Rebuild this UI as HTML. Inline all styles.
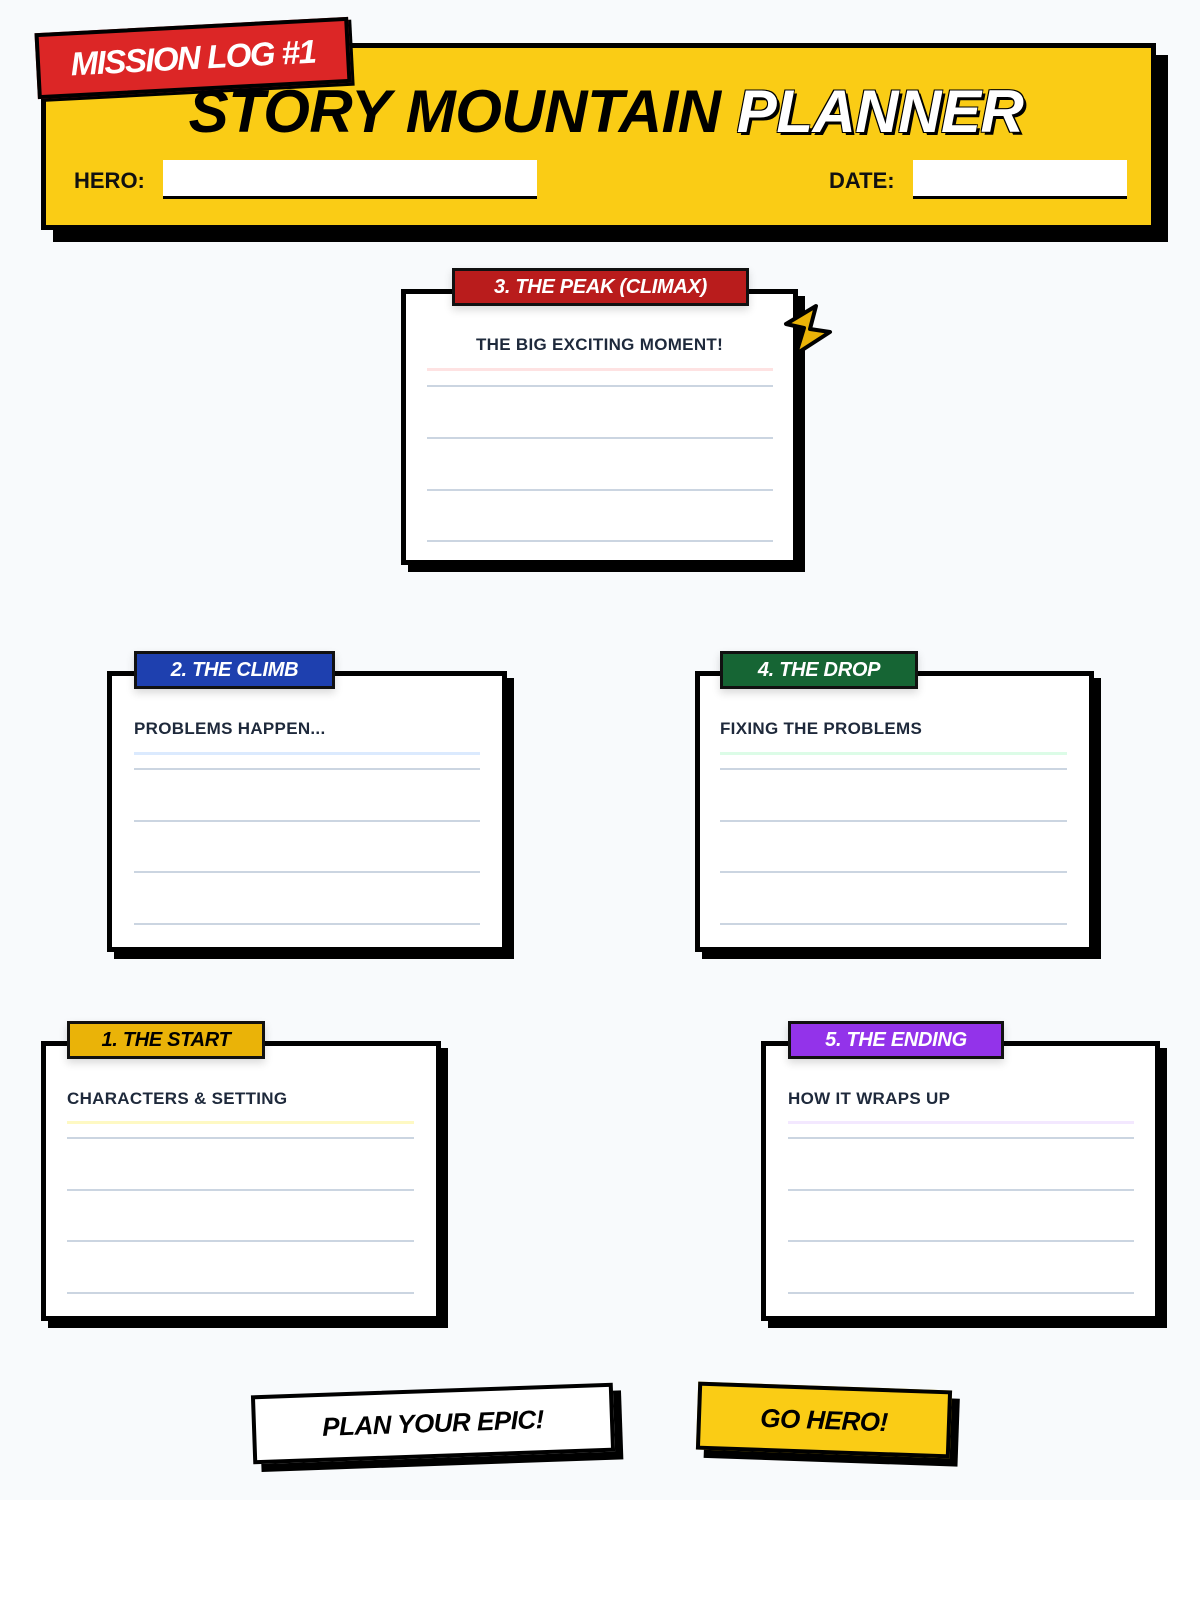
<!DOCTYPE html>
<html><head><meta charset="utf-8"><style>
*{margin:0;padding:0;box-sizing:border-box}
body{width:1200px;height:1600px;background:#fff;position:relative;overflow:hidden;font-family:"Liberation Sans",sans-serif}
#bg{position:absolute;left:0;top:0;width:1200px;height:1500px;background:#f8fafc}
.abs{position:absolute}
.hdr{left:41px;top:43px;width:1115px;height:187px;background:#facc15;border:5px solid #000;box-shadow:12px 12px 0 #000}
.tagred{left:36px;top:25px;width:314px;height:66px;background:#dc2626;border:4px solid #000;transform:rotate(-3deg);color:#fff;font:italic 900 33px "Liberation Sans",sans-serif;letter-spacing:-1.5px;display:flex;align-items:center;justify-content:center;box-shadow:3px 3px 0 #000}
.title{left:0;width:1212px;top:77px;text-align:center;font:italic 900 60px "Liberation Sans",sans-serif;letter-spacing:-0.5px;color:#000;white-space:nowrap}
.title span{color:#fff;text-shadow:3px 3px 0 #000,-1px -1px 0 #000,1px -1px 0 #000,-1px 1px 0 #000}
.lbl{font:bold 22px "Liberation Sans",sans-serif;color:#111}
.inp{background:#fff;border-bottom:3px solid #000;height:39px}
.card{background:#fff;border:5px solid #000;box-shadow:7px 7px 0 #000}
.tag{height:38px;border:3px solid #111;color:#fff;font:italic 900 20px "Liberation Sans",sans-serif;letter-spacing:-0.3px;display:flex;align-items:center;justify-content:center;box-shadow:0 4px 8px rgba(0,0,0,.15)}
.sub{font:bold 17px "Liberation Sans",sans-serif;color:#1e293b;letter-spacing:.3px;white-space:nowrap}
.ln{height:2px;background:#cbd5e1}
.cl{height:3px}
.btn{border:4px solid #000;box-shadow:8px 8px 0 #000;font:italic 900 26px "Liberation Sans",sans-serif;letter-spacing:-0.5px;display:flex;align-items:center;justify-content:center;color:#000}
</style></head><body>
<div id="bg"></div>

<div class="abs hdr"></div>
<div class="abs tagred">MISSION LOG #1</div>
<div class="abs title">STORY MOUNTAIN <span>PLANNER</span></div>
<div class="abs lbl" style="left:74px;top:168px">HERO:</div>
<div class="abs inp" style="left:163px;top:160px;width:374px"></div>
<div class="abs lbl" style="left:829px;top:168px">DATE:</div>
<div class="abs inp" style="left:913px;top:160px;width:214px"></div>

<!-- Peak -->
<div class="abs card" style="left:401px;top:289px;width:397px;height:276px"></div>
<div class="abs tag" style="left:452px;top:268px;width:297px;background:#b91c1c">3. THE PEAK (CLIMAX)</div>
<div class="abs sub" style="left:401px;width:397px;text-align:center;top:335px">THE BIG EXCITING MOMENT!</div>
<div class="abs cl" style="left:427px;top:368px;width:346px;background:#fee2e2"></div>
<div class="abs ln" style="left:427px;top:385px;width:346px"></div>
<div class="abs ln" style="left:427px;top:437px;width:346px"></div>
<div class="abs ln" style="left:427px;top:489px;width:346px"></div>
<div class="abs ln" style="left:427px;top:540px;width:346px"></div>
<svg class="abs" style="left:778px;top:302px" width="60" height="58" viewBox="0 0 60 58"><path d="M38 4 L8 22 L26 26 L18 52 L52 30 L32 27 Z" fill="#eab308" stroke="#000" stroke-width="4" stroke-linejoin="round"/></svg>

<!-- Climb -->
<div class="abs card" style="left:107px;top:671px;width:400px;height:281px"></div>
<div class="abs tag" style="left:134px;top:651px;width:201px;background:#1e40af">2. THE CLIMB</div>
<div class="abs sub" style="left:134px;top:719px">PROBLEMS HAPPEN...</div>
<div class="abs cl" style="left:134px;top:752px;width:346px;background:#dbeafe"></div>
<div class="abs ln" style="left:134px;top:768px;width:346px"></div>
<div class="abs ln" style="left:134px;top:820px;width:346px"></div>
<div class="abs ln" style="left:134px;top:871px;width:346px"></div>
<div class="abs ln" style="left:134px;top:923px;width:346px"></div>

<!-- Drop -->
<div class="abs card" style="left:695px;top:671px;width:399px;height:281px"></div>
<div class="abs tag" style="left:720px;top:651px;width:198px;background:#166534">4. THE DROP</div>
<div class="abs sub" style="left:720px;top:719px">FIXING THE PROBLEMS</div>
<div class="abs cl" style="left:720px;top:752px;width:347px;background:#dcfce7"></div>
<div class="abs ln" style="left:720px;top:768px;width:347px"></div>
<div class="abs ln" style="left:720px;top:820px;width:347px"></div>
<div class="abs ln" style="left:720px;top:871px;width:347px"></div>
<div class="abs ln" style="left:720px;top:923px;width:347px"></div>

<!-- Start -->
<div class="abs card" style="left:41px;top:1041px;width:400px;height:280px"></div>
<div class="abs tag" style="left:67px;top:1021px;width:198px;background:#eab308;color:#000">1. THE START</div>
<div class="abs sub" style="left:67px;top:1089px">CHARACTERS &amp; SETTING</div>
<div class="abs cl" style="left:67px;top:1121px;width:347px;background:#fef9c3"></div>
<div class="abs ln" style="left:67px;top:1137px;width:347px"></div>
<div class="abs ln" style="left:67px;top:1189px;width:347px"></div>
<div class="abs ln" style="left:67px;top:1240px;width:347px"></div>
<div class="abs ln" style="left:67px;top:1292px;width:347px"></div>

<!-- Ending -->
<div class="abs card" style="left:761px;top:1041px;width:399px;height:280px"></div>
<div class="abs tag" style="left:788px;top:1021px;width:216px;background:#9333ea">5. THE ENDING</div>
<div class="abs sub" style="left:788px;top:1089px">HOW IT WRAPS UP</div>
<div class="abs cl" style="left:788px;top:1121px;width:346px;background:#f3e8ff"></div>
<div class="abs ln" style="left:788px;top:1137px;width:346px"></div>
<div class="abs ln" style="left:788px;top:1189px;width:346px"></div>
<div class="abs ln" style="left:788px;top:1240px;width:346px"></div>
<div class="abs ln" style="left:788px;top:1292px;width:346px"></div>

<!-- Buttons -->
<div class="abs btn" style="left:252px;top:1389px;width:362px;height:69px;background:#fff;transform:rotate(-2deg)">PLAN YOUR EPIC!</div>
<div class="abs btn" style="left:697px;top:1386px;width:254px;height:68px;background:#facc15;transform:rotate(2deg)">GO HERO!</div>
</body></html>
